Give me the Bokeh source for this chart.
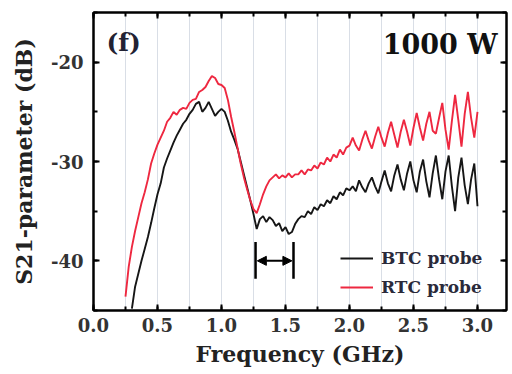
from bokeh.plotting import figure
from bokeh.models import (LinearAxis, SingleIntervalTicker, NumeralTickFormatter,
                          Legend, LegendItem, Arrow, NormalHead, Label, CustomJSTickFormatter)
from bokeh.embed import file_html
from bokeh.resources import INLINE

# ---- data ----
freq_rtc = [0.250, 0.275, 0.300, 0.325, 0.350, 0.375, 0.400, 0.425, 0.450, 0.475,
            0.500, 0.525, 0.550, 0.575, 0.600, 0.625, 0.650, 0.675, 0.700, 0.725,
            0.750, 0.775, 0.800, 0.825, 0.850, 0.875, 0.900, 0.925, 0.950, 0.975,
            1.000, 1.025, 1.050, 1.075, 1.100, 1.125, 1.150, 1.175, 1.200, 1.225,
            1.250, 1.275, 1.300, 1.325, 1.350, 1.375, 1.400, 1.425, 1.450, 1.475,
            1.500, 1.525, 1.550, 1.575, 1.600, 1.625, 1.650, 1.675, 1.700, 1.725,
            1.750, 1.775, 1.800, 1.825, 1.850, 1.875, 1.900, 1.925, 1.950, 1.975,
            2.000, 2.025, 2.050, 2.075, 2.100, 2.125, 2.150, 2.175, 2.200, 2.225,
            2.250, 2.275, 2.300, 2.325, 2.350, 2.375, 2.400, 2.425, 2.450, 2.475,
            2.500, 2.525, 2.550, 2.575, 2.600, 2.625, 2.650, 2.675, 2.700, 2.725,
            2.750, 2.775, 2.800, 2.825, 2.850, 2.875, 2.900, 2.925, 2.950, 2.975,
            3.000]
s21_rtc = [-43.6, -40.6, -38.6, -37.0, -35.6, -34.2, -33.1, -31.8, -30.2, -29.2,
           -28.3, -27.6, -26.9, -26.0, -25.6, -25.0, -25.3, -24.8, -24.6, -24.7,
           -24.1, -23.8, -23.7, -23.0, -22.8, -22.5, -21.9, -21.4, -21.6, -22.2,
           -22.3, -22.6, -23.8, -25.5, -27.0, -28.6, -30.2, -31.6, -32.8, -33.9,
           -34.8, -35.2, -34.3, -33.3, -32.5, -31.9, -31.6, -31.3, -31.7, -31.4,
           -31.6, -31.2, -31.6, -31.3, -31.3, -30.9, -31.3, -30.8, -30.9, -30.4,
           -30.7, -30.1, -30.3, -29.6, -30.0, -29.3, -29.6, -28.8, -29.3, -28.6,
           -28.4, -27.6, -28.4, -28.9, -27.8, -26.9, -27.9, -28.7, -27.5, -26.5,
           -27.6, -28.5, -27.1, -26.0, -27.3, -28.6, -27.0, -25.8, -27.0, -28.4,
           -26.6, -25.1, -26.6, -27.9, -26.2, -25.0, -26.9, -27.2, -25.6, -24.1,
           -26.8, -28.8, -25.9, -23.3, -25.8, -28.5, -25.2, -23.0, -25.6, -27.6,
           -25.0]

freq_btc = [0.300, 0.325, 0.350, 0.375, 0.400, 0.425, 0.450, 0.475,
            0.500, 0.525, 0.550, 0.575, 0.600, 0.625, 0.650, 0.675, 0.700, 0.725,
            0.750, 0.775, 0.800, 0.825, 0.850, 0.875, 0.900, 0.925, 0.950, 0.975,
            1.000, 1.025, 1.050, 1.075, 1.100, 1.125, 1.150, 1.175, 1.200, 1.225,
            1.250, 1.275, 1.300, 1.325, 1.350, 1.375, 1.400, 1.425, 1.450, 1.475,
            1.500, 1.525, 1.550, 1.575, 1.600, 1.625, 1.650, 1.675, 1.700, 1.725,
            1.750, 1.775, 1.800, 1.825, 1.850, 1.875, 1.900, 1.925, 1.950, 1.975,
            2.000, 2.025, 2.050, 2.075, 2.100, 2.125, 2.150, 2.175, 2.200, 2.225,
            2.250, 2.275, 2.300, 2.325, 2.350, 2.375, 2.400, 2.425, 2.450, 2.475,
            2.500, 2.525, 2.550, 2.575, 2.600, 2.625, 2.650, 2.675, 2.700, 2.725,
            2.750, 2.775, 2.800, 2.825, 2.850, 2.875, 2.900, 2.925, 2.950, 2.975,
            3.000]
s21_btc = [-44.8, -42.6, -41.3, -40.0, -38.8, -37.6, -36.2, -34.7,
           -33.3, -32.2, -30.6, -29.7, -28.9, -28.1, -27.4, -26.8, -26.2, -25.8,
           -25.2, -24.8, -24.2, -24.0, -25.0, -24.6, -24.0, -24.7, -25.4, -25.0,
           -24.7, -25.0, -25.9, -27.0, -27.8, -28.7, -30.0, -31.3, -32.6, -33.9,
           -35.3, -36.8, -35.8, -35.5, -36.1, -35.6, -35.9, -36.5, -36.2, -37.0,
           -36.6, -37.3, -37.1, -36.3, -35.8, -35.5, -35.6, -35.0, -35.3, -34.6,
           -34.9, -34.3, -34.5, -33.9, -34.2, -33.5, -33.8, -33.1, -33.4, -32.7,
           -32.9, -32.5, -33.0, -31.9, -32.6, -33.1, -32.2, -31.6, -32.5, -33.2,
           -32.0, -30.9, -32.2, -33.0, -31.4, -30.3, -31.8, -32.9, -31.2, -30.0,
           -31.9, -33.1, -31.0, -29.8, -32.0, -33.6, -31.2, -29.4, -31.8, -33.8,
           -31.0, -29.4, -32.5, -35.0, -31.6, -29.6, -32.4, -34.3, -31.8, -30.2,
           -34.5]

series_labels = ["BTC probe", "RTC probe"]
panel_label = "(f)"
power_label = "1000 W"
x_title = "Frequency (GHz)"
y_title = "S21-parameter (dB)"

FONT = "DejaVu Serif"
RED = "#ee2840"
BLACK = "#161616"

p = figure(width=512, height=374, x_range=(0, 3.2266), y_range=(-45, -15),
           output_backend="svg", toolbar_location=None,
           min_border_left=93, min_border_right=6, min_border_top=12,
           min_border_bottom=64, background_fill_color="white",
           border_fill_color="white")

p.outline_line_color = "black"
p.outline_line_width = 2

# grid: light vertical lines every 0.25 GHz
p.xgrid.ticker = SingleIntervalTicker(interval=0.25)
p.xgrid.grid_line_color = "#d9dee6"
p.xgrid.grid_line_width = 1
p.ygrid.grid_line_color = None

xt = SingleIntervalTicker(interval=0.5, num_minor_ticks=2)
yt = SingleIntervalTicker(interval=10, num_minor_ticks=2)

def style_axis(ax, show_labels):
    ax.axis_line_width = 2
    ax.axis_line_color = "black"
    ax.major_tick_in = 6
    ax.major_tick_out = 0
    ax.minor_tick_in = 4
    ax.minor_tick_out = 0
    ax.major_tick_line_width = 2
    ax.minor_tick_line_width = 2
    ax.major_label_text_font = FONT
    ax.major_label_text_font_style = "bold"
    ax.major_label_text_color = "#333333"
    ax.axis_label_text_font = FONT
    ax.axis_label_text_font_style = "bold"
    ax.axis_label_text_color = "#222222"
    if not show_labels:
        ax.formatter = CustomJSTickFormatter(code="return '';")
        ax.major_label_standoff = 0
        ax.major_label_text_font_size = "1px"

xa = p.xaxis[0]
xa.ticker = xt
xa.formatter = NumeralTickFormatter(format="0.0")
style_axis(xa, True)
xa.major_label_text_font_size = "18px"
xa.major_label_standoff = 7
xa.axis_label = x_title
xa.axis_label_text_font_size = "22px"
xa.axis_label_standoff = 6

ya = p.yaxis[0]
ya.ticker = yt
ya.major_label_overrides = {-20: "-20", -30: "-30", -40: "-40"}
style_axis(ya, True)
ya.major_label_text_font_size = "18px"
ya.major_label_standoff = 10
ya.axis_label = y_title
ya.axis_label_text_font_size = "22px"
ya.axis_label_standoff = 11

top = LinearAxis(ticker=xt)
style_axis(top, False)
p.add_layout(top, "above")
right = LinearAxis(ticker=yt)
style_axis(right, False)
p.add_layout(right, "right")

r_btc = p.line(freq_btc, s21_btc, line_color=BLACK, line_width=1.9)
r_rtc = p.line(freq_rtc, s21_rtc, line_color=RED, line_width=1.9)

legend = Legend(items=[LegendItem(label=series_labels[0], renderers=[r_btc]),
                       LegendItem(label=series_labels[1], renderers=[r_rtc])],
                location=(247, 13), orientation="vertical",
                background_fill_alpha=0, border_line_alpha=0,
                padding=0, margin=0, spacing=9,
                glyph_width=33, glyph_height=20, label_height=20,
                label_standoff=8,
                label_text_font=FONT, label_text_font_style="bold",
                label_text_font_size="17px", label_text_color="#2a2a3a")
p.add_layout(legend)

# bandwidth marker
p.segment(x0=[1.266, 1.5625], y0=[-38.1, -38.1], x1=[1.266, 1.5625], y1=[-41.8, -41.8],
          line_color="black", line_width=2.5)
p.add_layout(Arrow(start=NormalHead(size=9, fill_color="black", line_color="black"),
                   end=NormalHead(size=9, fill_color="black", line_color="black"),
                   x_start=1.28, y_start=-40, x_end=1.55, y_end=-40,
                   line_color="black", line_width=2))

p.add_layout(Label(x=13, y=268, x_units="screen", y_units="screen", text=panel_label,
                   text_font=FONT, text_font_style="bold", text_font_size="25px",
                   text_color="#222233", text_baseline="middle"))
p.add_layout(Label(x=404, y=266, x_units="screen", y_units="screen", text=power_label,
                   text_font=FONT, text_font_style="bold", text_font_size="27px",
                   text_color="#111111", text_baseline="middle", text_align="right"))

open("out.html", "w").write(file_html(p, INLINE))
